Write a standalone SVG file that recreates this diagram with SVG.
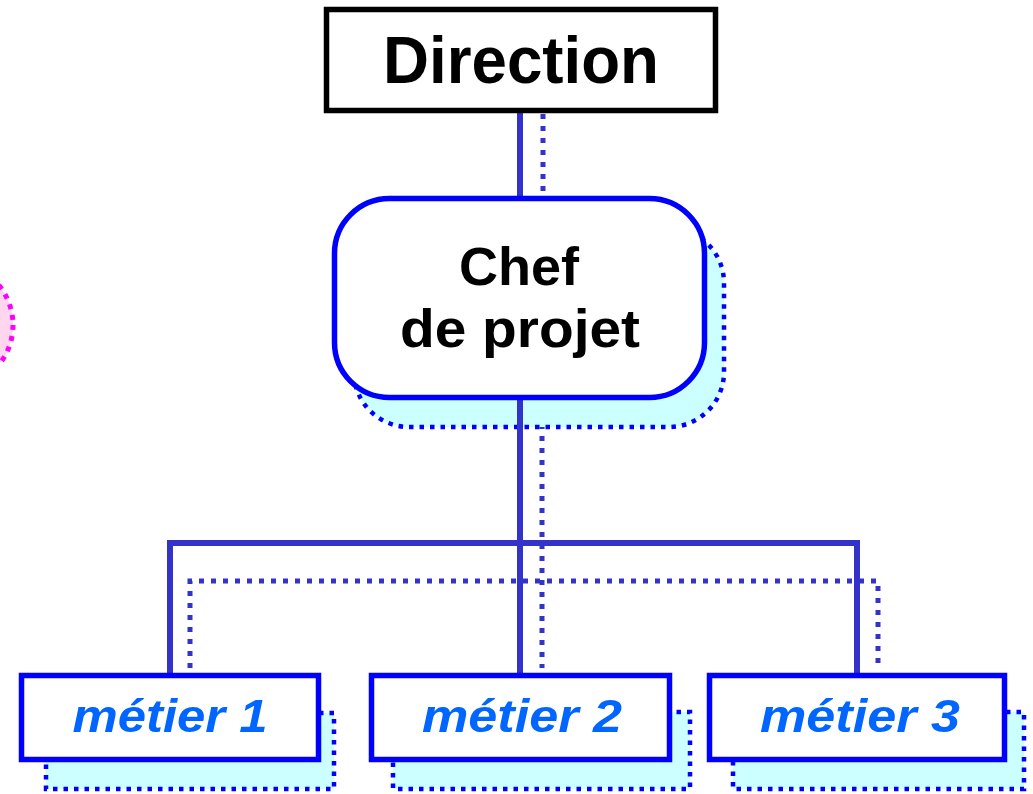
<svg xmlns="http://www.w3.org/2000/svg" width="1033" height="794" viewBox="0 0 1033 794">
  <style>
    .link { fill: none; stroke: #3333CC; stroke-width: 6; }
    .link-dot { fill: none; stroke: #3333CC; stroke-width: 5; stroke-dasharray: 5 7; }
    .shadow { fill: #CCFFFF; stroke: #0000FF; stroke-width: 4.5; stroke-dasharray: 4.5 6; }
    .box { fill: #FFFFFF; stroke: #0000FF; stroke-width: 5.5; }
    .label { font-family: "Liberation Sans", Arial, sans-serif; font-weight: bold; text-anchor: middle; fill: #000000; }
    .trade { font-family: "Liberation Sans", Arial, sans-serif; font-weight: bold; font-style: italic; text-anchor: middle; fill: #0066FF; font-size: 47px; }
  </style>

  <rect width="1033" height="794" fill="#FFFFFF"/>

  <!-- partial marker on the left edge -->
  <g id="side-marker">
    <circle cx="-50" cy="325" r="63" fill="#FFD6EE" stroke="#FF00FF" stroke-width="5" stroke-dasharray="5 6"/>
  </g>

  <!-- dotted secondary links (drawn under shadows) -->
  <g id="connectors-dotted">
    <line class="link-dot" x1="543" y1="114" x2="543" y2="196"/>
    <line class="link-dot" x1="542" y1="400" x2="542" y2="668"/>
    <polyline class="link-dot" points="190,668 190,581 878,581 878,668"/>
  </g>

  <!-- drop shadows -->
  <g id="shadows">
    <rect class="shadow" x="354" y="228" width="370" height="199" rx="55"/>
    <rect class="shadow" x="46" y="713" width="288" height="76"/>
    <rect class="shadow" x="393" y="712" width="297" height="77"/>
    <rect class="shadow" x="733" y="712" width="291" height="77"/>
  </g>

  <!-- solid hierarchy links -->
  <g id="connectors">
    <line class="link" x1="520" y1="110" x2="520" y2="198"/>
    <line class="link" x1="520" y1="396" x2="520" y2="676"/>
    <polyline class="link" points="170,676 170,543 857,543 857,676"/>
  </g>

  <g id="direction">
    <rect x="326.5" y="9.5" width="389" height="101" fill="#FFFFFF" stroke="#000000" stroke-width="5.5"/>
    <text class="label" x="521" y="83" font-size="66" textLength="276" lengthAdjust="spacingAndGlyphs">Direction</text>
  </g>

  <g id="chef-de-projet">
    <rect class="box" x="334.5" y="198.5" width="370" height="199" rx="55"/>
    <text class="label" x="519" y="285" font-size="54">Chef</text>
    <text class="label" x="520" y="347" font-size="54" textLength="240" lengthAdjust="spacingAndGlyphs">de projet</text>
  </g>

  <g id="metier-1">
    <rect class="box" x="21.5" y="675.5" width="297" height="84"/>
    <text class="trade" x="170" y="732" textLength="195" lengthAdjust="spacingAndGlyphs">métier 1</text>
  </g>

  <g id="metier-2">
    <rect class="box" x="371.5" y="675.5" width="298" height="84"/>
    <text class="trade" x="522" y="732" textLength="200" lengthAdjust="spacingAndGlyphs">métier 2</text>
  </g>

  <g id="metier-3">
    <rect class="box" x="709.5" y="675.5" width="295" height="84"/>
    <text class="trade" x="860" y="732" textLength="200" lengthAdjust="spacingAndGlyphs">métier 3</text>
  </g>
</svg>
